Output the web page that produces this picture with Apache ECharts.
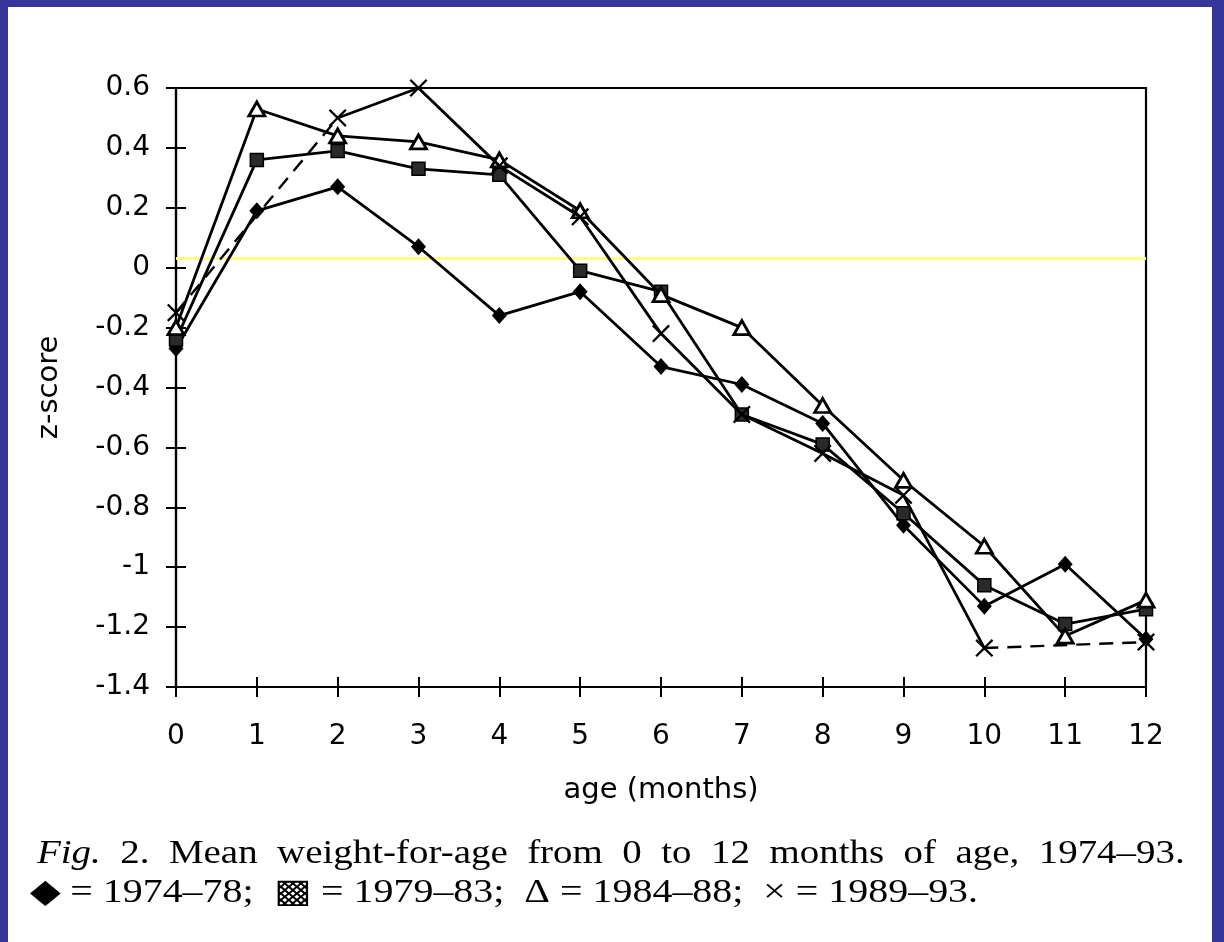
<!DOCTYPE html>
<html>
<head>
<meta charset="utf-8">
<script src="https://cdn.jsdelivr.net/npm/echarts@6/dist/echarts.min.js"></script>
<style>
  html, body { margin: 0; padding: 0; background: #36369a; width: 1224px; height: 942px; overflow: hidden; }
  #chart { position: absolute; left: 8px; top: 7px; width: 1204px; height: 935px; background: #ffffff; }
</style>
</head>
<body>
<div id="chart"></div>
<script>
// ---- data ----
const months = [0, 1, 2, 3, 4, 5, 6, 7, 8, 9, 10, 11, 12];
const yTickMin = -1.4, yTickMax = 0.6, yTickStep = 0.2;
const s1974_78 = [-0.27, 0.19, 0.27, 0.07, -0.16, -0.08, -0.33, -0.39, -0.52, -0.86, -1.13, -0.99, -1.24];
const s1979_83 = [-0.24, 0.36, 0.39, 0.33, 0.31, -0.01, -0.08, -0.49, -0.59, -0.82, -1.06, -1.19, -1.14];
const s1984_88 = [-0.20, 0.53, 0.44, 0.42, 0.36, 0.19, -0.09, -0.20, -0.46, -0.71, -0.93, -1.23, -1.11];
const s1989_93 = [-0.15, null, 0.50, 0.60, 0.34, 0.17, -0.22, -0.49, -0.62, -0.76, -1.27, null, -1.25];
const refLineValue = 0.033;
const xName = 'age (months)';
const yName = 'z-score';
const captionWords1 = ['{i|Fig.}', '2.', 'Mean', 'weight-for-age', 'from', '0', 'to', '12', 'months', 'of', 'age,', '1974\u201393.'];
const caption2 = '\u25C6 = 1974\u201378;  \u25A9 = 1979\u201383;  \u0394 = 1984\u201388;  \u00D7 = 1989\u201393.';

// ---- build ----
const pairs = arr => months.map((m, i) => [m, arr[i] === null ? '-' : arr[i]]);
const xPath = 'path://M0,1.8 L1.8,0 L10,8.2 L18.2,0 L20,1.8 L11.8,10 L20,18.2 L18.2,20 L10,11.8 L1.8,20 L0,18.2 L8.2,10 Z';
const lineW = 2.8;

function gapSegments(arr) {
  const segs = [];
  for (let i = 0; i < arr.length; i++) {
    if (arr[i] === null) {
      let p = i - 1; while (p >= 0 && arr[p] === null) p--;
      let n = i + 1; while (n < arr.length && arr[n] === null) n++;
      if (p >= 0 && n < arr.length) {
        segs.push([[months[p], arr[p]], [months[n], arr[n]]]);
        i = n - 1;
      }
    }
  }
  return segs;
}

const fontSans = 'DejaVu Sans';
const series = [
  {
    name: '1974-78', type: 'line', data: pairs(s1974_78), symbol: 'diamond', symbolSize: [15, 17],
    lineStyle: { color: '#000', width: lineW }, itemStyle: { color: '#000' }, z: 3,
    markLine: {
      silent: true, symbol: 'none', label: { show: false },
      lineStyle: { color: '#ffff88', width: 3, type: 'solid' },
      data: [{ yAxis: refLineValue }], z: 1
    }
  },
  {
    name: '1979-83', type: 'line', data: pairs(s1979_83), symbol: 'rect', symbolSize: 13,
    lineStyle: { color: '#000', width: lineW }, itemStyle: { color: '#2a2a2a', borderColor: '#000', borderWidth: 1.5 }, z: 4
  },
  {
    name: '1984-88', type: 'line', data: pairs(s1984_88), symbol: 'triangle', symbolSize: [16, 14],
    lineStyle: { color: '#000', width: lineW }, itemStyle: { color: '#fff', borderColor: '#000', borderWidth: 2.8 }, z: 5
  },
  {
    name: '1989-93', type: 'line', data: pairs(s1989_93), symbol: xPath, symbolSize: 18, connectNulls: false,
    lineStyle: { color: '#000', width: lineW }, itemStyle: { color: '#000' }, z: 6
  }
];
gapSegments(s1989_93).forEach(seg => {
  series.push({
    name: '1989-93 gap', type: 'line', data: seg, symbol: 'none',
    lineStyle: { color: '#000', width: 2.4, type: [14, 9] }, z: 2
  });
});

const commonX = { type: 'value', min: months[0], max: months[months.length - 1], interval: 1, position: 'bottom' };
const commonY = { type: 'value', min: yTickMin, max: yTickMax, interval: yTickStep, position: 'left' };

const option = {
  animation: false,
  grid: { left: 168, right: 66, top: 81, bottom: 255, show: true, borderColor: '#000', borderWidth: 2.2, backgroundColor: 'transparent' },
  xAxis: [
    Object.assign({}, commonX, {
      name: xName, nameLocation: 'middle', nameGap: 89,
      nameTextStyle: { fontFamily: fontSans, fontSize: 29, color: '#000' },
      axisLine: { show: true, onZero: false, lineStyle: { color: '#000', width: 2.2 } },
      axisTick: { show: true, inside: false, length: 10, lineStyle: { color: '#000', width: 2 } },
      axisLabel: { show: true, margin: 36, fontFamily: fontSans, fontSize: 28, color: '#000' },
      splitLine: { show: false }
    }),
    Object.assign({}, commonX, {
      axisLine: { show: false, onZero: false },
      axisTick: { show: true, inside: true, length: 10, lineStyle: { color: '#000', width: 2 } },
      axisLabel: { show: false }, splitLine: { show: false }
    })
  ],
  yAxis: [
    Object.assign({}, commonY, {
      name: yName, nameLocation: 'middle', nameGap: 112, nameRotate: 90,
      nameTextStyle: { fontFamily: fontSans, fontSize: 29, color: '#000' },
      axisLine: { show: true, onZero: false, lineStyle: { color: '#000', width: 2.2 } },
      axisTick: { show: true, inside: false, length: 10, lineStyle: { color: '#000', width: 2 } },
      axisLabel: { show: true, margin: 26, fontFamily: fontSans, fontSize: 28, color: '#000' },
      splitLine: { show: false }
    }),
    Object.assign({}, commonY, {
      axisLine: { show: false, onZero: false },
      axisTick: { show: true, inside: true, length: 10, lineStyle: { color: '#000', width: 2 } },
      axisLabel: { show: false }, splitLine: { show: false }
    })
  ],
  series: series,
  graphic: [
    {
      type: 'text', x: 29, y: 831, scaleX: 1.18,
      style: {
        text: captionWords1.join('  '), fill: '#000', font: '33px "Liberation Serif"',
        rich: { i: { fontStyle: 'italic', fontFamily: 'Liberation Serif', fontSize: 33, fill: '#000' } }
      }
    },
    {
      type: 'text', x: 22, y: 870, scaleX: 1.21,
      style: { text: caption2, fill: '#000', font: '33px "Liberation Serif"' }
    }
  ]
};

const chart = echarts.init(document.getElementById('chart'), null, { renderer: 'canvas' });
chart.setOption(option);
</script>
</body>
</html>
